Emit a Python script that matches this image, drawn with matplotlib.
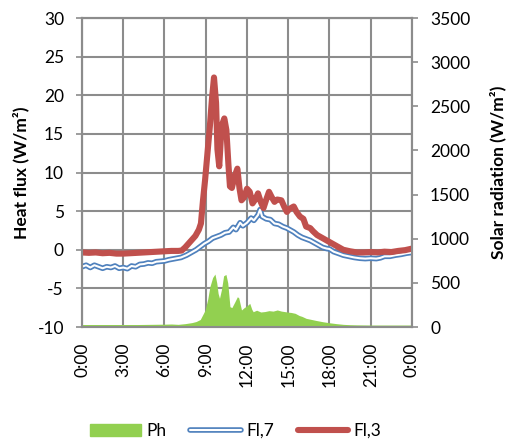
import matplotlib
matplotlib.use("Agg")
import matplotlib.pyplot as plt
from matplotlib.lines import Line2D
from matplotlib.patches import Patch
from matplotlib.legend_handler import HandlerTuple

plt.rcParams['font.family'] = ['Lato', 'DejaVu Sans']

# ---- data ----
fl3_h = [0.0, 0.5, 1.0, 1.5, 2.0, 2.5, 3.0, 3.5, 4.0, 4.5, 5.0, 5.5, 6.0, 6.5, 7.0, 7.25, 7.5, 7.75,
         8.0, 8.25, 8.5, 8.65, 8.8, 8.95, 9.1, 9.3, 9.45, 9.6, 9.75, 9.85, 9.98, 10.15, 10.35, 10.5,
         10.65, 10.76, 10.9, 11.1, 11.3, 11.45, 11.6, 11.8, 12.0, 12.2, 12.4, 12.6, 12.8, 13.0, 13.2,
         13.4, 13.6, 13.8, 14.0, 14.2, 14.5, 14.7, 14.9, 15.1, 15.4, 15.6, 15.85, 16.1, 16.3, 16.6,
         16.8, 17.1, 17.5, 17.8, 18.2, 18.6, 19.0, 19.5, 20.0, 20.5, 21.0, 21.5, 22.0, 22.5, 23.0,
         23.5, 24.0]
fl3_v = [-0.35, -0.4, -0.35, -0.45, -0.4, -0.5, -0.5, -0.45, -0.4, -0.35, -0.3, -0.25, -0.2, -0.15,
         -0.15, -0.1, 0.3, 0.8, 1.3, 1.8, 2.6, 3.4, 6.4, 9.0, 12.0, 16.0, 19.5, 22.3, 19.0, 13.0, 10.8,
         16.0, 17.0, 15.5, 11.0, 8.2, 8.0, 9.5, 10.5, 8.0, 6.4, 6.8, 7.9, 7.5, 6.0, 6.5, 7.3, 6.2, 5.4,
         6.5, 7.5, 6.8, 6.2, 6.5, 6.4, 5.6, 4.9, 5.3, 5.6, 4.9, 4.3, 4.0, 3.0, 2.8, 2.4, 1.9, 1.5, 1.2,
         0.8, 0.4, 0.0, -0.2, -0.35, -0.35, -0.3, -0.35, -0.25, -0.3, -0.15, -0.05, 0.15]

fl7_h = [0.0, 0.3, 0.6, 0.9, 1.2, 1.5, 1.8, 2.1, 2.4, 2.7, 3.0, 3.3, 3.6, 3.9, 4.2, 4.5, 4.8, 5.1,
         5.4, 5.7, 6.0, 6.3, 6.6, 6.9, 7.2, 7.6, 8.0, 8.3, 8.6, 8.9, 9.2, 9.5, 9.8, 10.1, 10.4, 10.7,
         11.0, 11.2, 11.5, 11.7, 12.0, 12.3, 12.5, 12.8, 12.95, 13.1, 13.4, 13.7, 14.0, 14.3, 14.6,
         14.9, 15.1, 15.4, 15.7, 16.0, 16.3, 16.6, 16.8, 17.1, 17.5, 17.8, 18.0, 18.3, 18.7, 19.0,
         19.4, 19.8, 20.2, 20.6, 21.0, 21.4, 21.7, 22.0, 22.4, 22.8, 23.2, 23.6, 24.0]
fl7_v = [-2.2, -2.0, -2.3, -2.0, -2.2, -2.4, -2.2, -2.3, -2.1, -2.4, -2.3, -2.45, -2.1, -2.2, -1.9,
         -1.85, -1.7, -1.75, -1.55, -1.5, -1.45, -1.3, -1.2, -1.1, -1.0, -0.7, -0.3, 0.0, 0.4, 0.8,
         1.1, 1.5, 1.7, 1.9, 2.2, 2.3, 2.9, 2.6, 3.5, 3.1, 3.5, 4.1, 3.8, 4.5, 5.2, 4.3, 4.0, 3.9, 3.4,
         3.3, 3.0, 2.8, 2.6, 2.3, 1.9, 1.6, 1.4, 1.2, 1.0, 0.7, 0.3, 0.15, 0.1, -0.25, -0.5, -0.7,
         -0.85, -1.0, -1.1, -1.15, -1.1, -1.15, -1.05, -0.85, -0.85, -0.7, -0.6, -0.45, -0.35]

ph_h = [0, 1, 2, 3, 4, 5, 6, 6.5, 7.0, 7.5, 8.0, 8.3, 8.6, 8.95, 9.15, 9.3, 9.5, 9.67, 9.8, 9.9,
        10.0, 10.15, 10.3, 10.47, 10.6, 10.76, 10.9, 11.1, 11.3, 11.4, 11.6, 11.8, 12.0, 12.2, 12.35,
        12.45, 12.7, 13.0, 13.3, 13.6, 13.9, 14.2, 14.5, 14.8, 15.0, 15.2, 15.5, 15.8, 16.0, 16.3,
        16.7, 17.0, 17.5, 18.0, 18.5, 19.0, 19.5, 20, 21, 22, 23, 24]
ph_v = [28, 28, 28, 28, 28, 30, 32, 34, 30, 38, 50, 62, 85, 190, 320, 456, 560, 600, 500, 380,
        325, 430, 580, 595, 500, 230, 220, 280, 343, 330, 193, 220, 240, 268, 200, 173, 190, 170,
        175, 185, 180, 193, 180, 173, 168, 165, 155, 130, 120, 98, 85, 75, 60, 48, 38, 30, 26, 24,
        22, 22, 22, 22]

x_ticks = [0, 3, 6, 9, 12, 15, 18, 21, 24]
x_labels = ["0:00", "3:00", "6:00", "9:00", "12:00", "15:00", "18:00", "21:00", "0:00"]
left_ticks = [-10, -5, 0, 5, 10, 15, 20, 25, 30]
right_ticks = [0, 500, 1000, 1500, 2000, 2500, 3000, 3500]

# ---- style ----
GREEN = '#92d050'
BLUE = '#4f81bd'
RED = '#c0504d'
GRID = '#8c8c8c'
FS = 12.5

fig = plt.figure(figsize=(5.1, 4.42), dpi=100)
ax = fig.add_axes([82/510, 1-327/442, 330/510, 309/442])
ax2 = ax.twinx()

ax.set_xlim(0, 24)
ax.set_ylim(-10, 30)
ax2.set_ylim(0, 3500)

ax.set_xticks(x_ticks)
ax.set_xticklabels(x_labels, rotation=90, fontsize=FS)
ax.set_yticks(left_ticks)
ax.set_yticklabels([str(t) for t in left_ticks], fontsize=FS)
ax2.set_yticks(right_ticks)
ax2.set_yticklabels([str(t) for t in right_ticks], fontsize=FS)

ax.grid(True, color=GRID, lw=1.5)
ax.set_axisbelow(True)
ax.tick_params(axis='x', length=0, pad=11)
ax.tick_params(axis='y', length=4, width=1.2, color=GRID, pad=9)
ax2.tick_params(axis='y', length=4, width=1.2, color=GRID, pad=9)
for a in (ax, ax2):
    for s in a.spines.values():
        s.set_color(GRID)
        s.set_linewidth(1.5)

# lines
ax.plot(fl7_h, fl7_v, color=BLUE, lw=4.0, zorder=3)
ax.plot(fl7_h, fl7_v, color='white', lw=1.5, zorder=3.1)
ax.plot(fl3_h, fl3_v, color=RED, lw=4.4, zorder=4, solid_joinstyle='round')

# area
ax2.fill_between(ph_h, 0, ph_v, color=GREEN, lw=0)

ax.set_ylabel("Heat flux (W/m²)", fontsize=FS, fontweight='bold', labelpad=6)
ax2.set_ylabel("Solar radiation (W/m²)", fontsize=FS, fontweight='bold', labelpad=14)

handles = [Patch(color=GREEN),
           (Line2D([], [], color=BLUE, lw=4.0, solid_capstyle='round'),
            Line2D([], [], color='white', lw=1.5, solid_capstyle='round')),
           Line2D([], [], color=RED, lw=4.4, solid_capstyle='round')]
fig.legend(handles, ["Ph", "Fl,7", "Fl,3"], loc='center', bbox_to_anchor=(236/510, 1-431/442),
           ncol=3, frameon=False, fontsize=FS, handlelength=2.9, handletextpad=0.3,
           columnspacing=1.4, handler_map={tuple: HandlerTuple(ndivide=1, pad=0)})

fig.savefig("out.png", dpi=100)
